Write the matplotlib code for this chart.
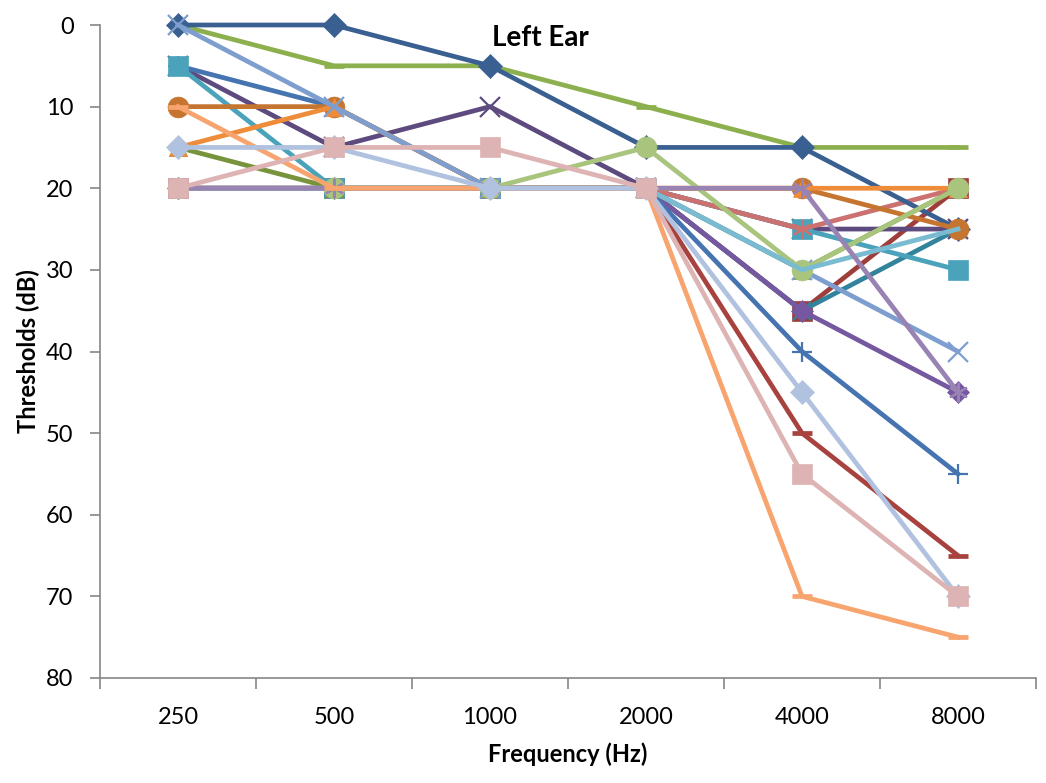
import matplotlib.pyplot as plt

plt.rcParams['font.family'] = ['Lato', 'DejaVu Sans']

freqs = ['250', '500', '1000', '2000', '4000', '8000']

# thresholds (dB) per subject, left ear
s_dkblue = [0, 0, 5, 15, 15, 25]
s_olive = [0, 5, 5, 10, 15, 15]
s_steel = [0, 10, 20, 20, 30, 40]
s_aqua = [5, 20, 20, 20, 25, 30]
s_blue = [5, 10, 20, 20, 40, 55]
s_dkpurple = [5, 15, 10, 20, 25, 25]
s_dkorange = [10, 10, 20, 20, 20, 25]
s_orange = [15, 10, 20, 20, 20, 20]
s_dkgreen = [15, 20, 20, 20, 30, 20]
s_lavender = [20, 20, 20, 20, 20, 45]
s_dkred = [20, 20, 20, 20, 50, 65]
s_brick = [20, 20, 20, 20, 35, 20]
s_teal = [20, 20, 20, 20, 35, 25]
s_purple = [20, 20, 20, 20, 35, 45]
s_salmon = [20, 20, 20, 20, 25, 20]
s_ltaqua = [20, 20, 20, 20, 30, 25]
s_ltgreen = [20, 20, 20, 15, 30, 20]
s_ltorange = [10, 20, 20, 20, 70, 75]
s_ltblue = [15, 15, 20, 20, 45, 70]
s_pink = [20, 15, 15, 20, 55, 70]

star = (6, 2, 0)
series = [
    (s_dkred, '#A8423F', '_', 15),
    (s_brick, '#9E3E3B', 's', 14.5),
    (s_teal, '#31849B', 'x', 13),
    (s_purple, '#7558A0', 'D', 11),
    (s_dkpurple, '#5D4A7E', 'x', 14),
    (s_blue, '#4574B0', '+', 15),
    (s_aqua, '#4AA3BB', 's', 14.5),
    (s_salmon, '#CB7170', star, 14),
    (s_dkgreen, '#77933C', '^', 13),
    (s_olive, '#8DB04F', '_', 15),
    (s_dkblue, '#3A6091', 'D', 12.5),
    (s_dkorange, '#C5752F', 'o', 15),
    (s_orange, '#EE8C3A', '^', 13),
    (s_steel, '#7D9ECF', 'x', 14),
    (s_ltgreen, '#A9C57D', 'o', 15),
    (s_ltaqua, '#79BCD1', None, 0),
    (s_lavender, '#9883B2', star, 14),
    (s_ltorange, '#F7A46E', '_', 15),
    (s_ltblue, '#B0C2DF', 'D', 12.5),
    (s_pink, '#DDB4B3', 's', 14.5),
]

fig = plt.figure(figsize=(10.46, 7.83), dpi=100)
ax = fig.add_axes([100 / 1046, 105 / 783, 936 / 1046, 653 / 783])

x = list(range(len(freqs)))
for vals, col, mk, ms in series:
    if mk in ('x', '+') or isinstance(mk, tuple):
        mew = 1.6
    elif mk == '_':
        mew = 3.4
    else:
        mew = 0.5
    ax.plot(x, vals, color=col, lw=3.4, marker=mk, ms=ms, mew=mew,
            mec=col, mfc=col, clip_on=False)

ax.set_xlim(-0.5, 5.5)
ax.set_ylim(80, 0)
ax.set_yticks(range(0, 81, 10))
ax.set_xticks(x)
ax.set_xticklabels(freqs)
ax.set_xticks([i - 0.5 for i in range(7)], minor=True)
ax.tick_params(axis='x', which='major', length=0, pad=21, labelsize=17)
ax.tick_params(axis='x', which='minor', length=8, color='#868686', width=1.2)
ax.tick_params(axis='y', length=7, color='#868686', width=1.2, pad=12, labelsize=17)

for s in ('top', 'right'):
    ax.spines[s].set_visible(False)
for s in ('left', 'bottom'):
    ax.spines[s].set_color('#868686')
    ax.spines[s].set_linewidth(1.2)

ax.set_xlabel('Frequency (Hz)', fontsize=17, fontweight='bold', labelpad=10)
ax.set_ylabel('Thresholds (dB)', fontsize=17, fontweight='bold', labelpad=4)
ax.text(0.47, 0.98, 'Left Ear', transform=ax.transAxes, ha='center', va='center',
        fontsize=20, fontweight='bold')

fig.savefig('out.png', dpi=100)
